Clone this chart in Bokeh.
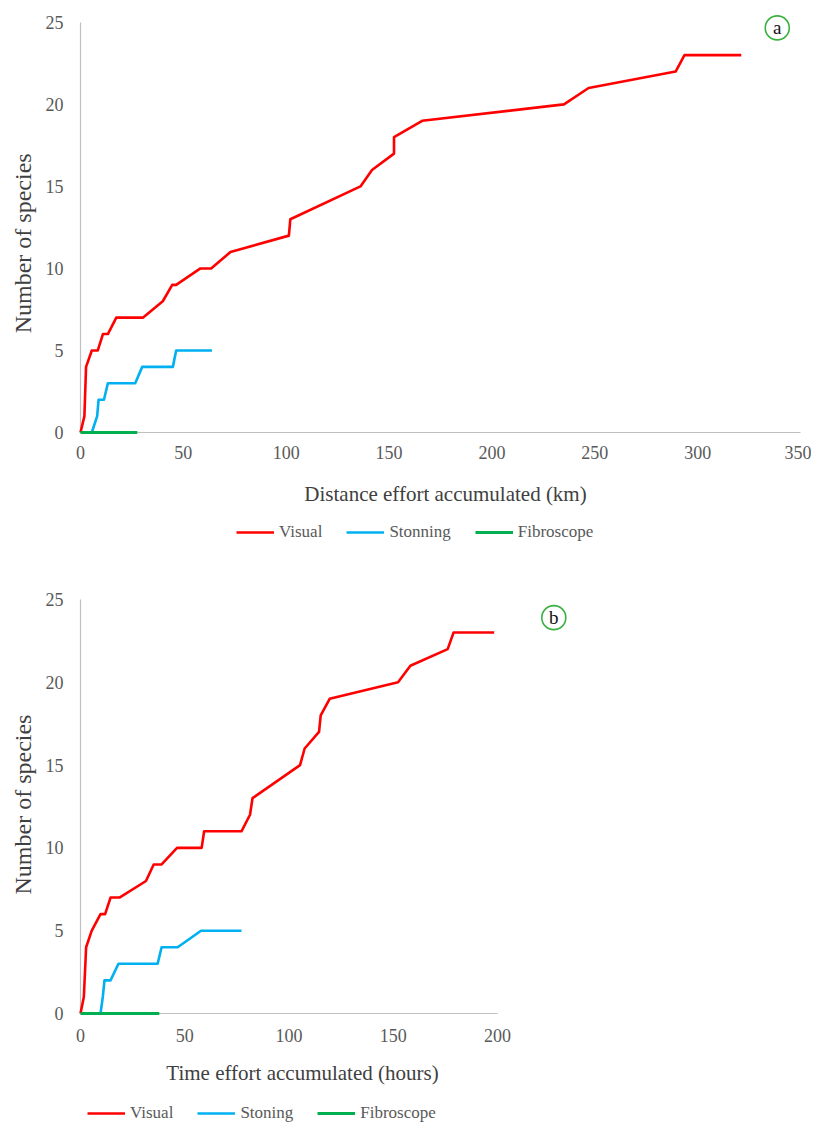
import math
from bokeh.plotting import figure
from bokeh.models import Legend, LegendItem, SingleIntervalTicker, Range1d
from bokeh.layouts import column, row
from bokeh.embed import file_html
from bokeh.resources import INLINE
from bokeh.core.properties import value

# ---------------- data: panel (a) distance effort (km) ----------------
a_visual_x = [0, 1.9, 2.7, 5.5, 8.4, 10.9, 13.3, 17.4, 30.3, 40, 44.6, 46.5, 58.3, 63.5,
              72.9, 101.3, 102, 136.1, 141.7, 152.4, 152.4, 166.1, 235, 247, 289.3, 293.6, 321.2]
a_visual_y = [0, 1, 4, 5, 5, 6, 6, 7, 7, 8, 9, 9, 10, 10,
              11, 12, 13, 15, 16, 17, 18, 19, 20, 21, 22, 23, 23]
a_ston_x = [5.5, 8.1, 8.8, 11.4, 13.3, 26.6, 30, 44.9, 46.5, 63.9]
a_ston_y = [0, 1, 2, 2, 3, 3, 4, 4, 5, 5]
a_fibro_x = [0, 27.6]
a_fibro_y = [0, 0]

# ---------------- data: panel (b) time effort (hours) ----------------
b_visual_x = [0, 1.6, 2.7, 5.4, 9.6, 11.8, 14.4, 18.7, 31.4, 35.1, 38.9, 46.3, 58.1, 59.3,
              77.2, 81.3, 82.5, 105.3, 107.5, 114.4, 115.2, 119.5, 152.3, 158.2, 176.1, 178.9, 198.4]
b_visual_y = [0, 1, 4, 5, 6, 6, 7, 7, 8, 9, 9, 10, 10, 11,
              11, 12, 13, 15, 16, 17, 18, 19, 20, 21, 22, 23, 23]
b_ston_x = [9.6, 10.7, 11.5, 14.4, 18.2, 37, 38.9, 46.6, 57.8, 77.2]
b_ston_y = [0, 1, 2, 2, 3, 3, 4, 4, 5, 5]
b_fibro_x = [0, 37.8]
b_fibro_y = [0, 0]

a_labels = ["Visual", "Stonning", "Fibroscope"]
b_labels = ["Visual", "Stoning", "Fibroscope"]
y_title = "Number of species"
a_x_title = "Distance effort accumulated (km)"
b_x_title = "Time effort accumulated (hours)"

FONT = "Liberation Serif"
TXT = "#595959"
TITLE = "#404040"
AXC = "#BFBFBF"
COLORS = ["#FF0000", "#00B0F0", "#00B050"]
WIDTHS = [2.6, 2.6, 3.2]


def blank(width, height):
    q = figure(width=width, height=height, output_backend="svg", toolbar_location=None,
               x_range=Range1d(0, width), y_range=Range1d(0, height),
               x_axis_type=None, y_axis_type=None,
               min_border_left=0, min_border_right=0, min_border_top=0, min_border_bottom=0)
    q.outline_line_color = None
    q.background_fill_color = "white"
    q.border_fill_color = "white"
    return q


def make_panel(width, height, xr, xbounds, mb_top, mb_right, series, tag, tag_xy,
               tick_standoff):
    p = figure(width=width, height=height, output_backend="svg", toolbar_location=None,
               x_range=Range1d(*xr), y_range=Range1d(0, 25.6),
               min_border_left=40, min_border_right=mb_right,
               min_border_top=mb_top, min_border_bottom=32)
    p.outline_line_color = None
    p.grid.visible = False
    p.background_fill_color = "white"
    p.border_fill_color = "white"

    for ax in (p.xaxis[0], p.yaxis[0]):
        ax.axis_line_color = AXC
        ax.axis_line_width = 1.2
        ax.major_tick_line_color = None
        ax.minor_tick_line_color = None
        ax.major_label_text_font = FONT
        ax.major_label_text_font_size = "18px"
        ax.major_label_text_color = TXT
    p.xaxis.ticker = SingleIntervalTicker(interval=50)
    p.yaxis.ticker = SingleIntervalTicker(interval=5)
    p.xaxis.bounds = xbounds
    p.yaxis.bounds = (0, 25)
    p.xaxis.major_label_standoff = tick_standoff
    p.yaxis.major_label_standoff = 11

    for (xs, ys), c, w in zip(series, COLORS, WIDTHS):
        p.line(xs, ys, line_color=c, line_width=w, line_join="round", level="overlay")

    p.scatter([tag_xy[0]], [tag_xy[1]], marker="circle", size=24, fill_color="white",
              line_color="#3CB043", line_width=1.6)
    p.text([tag_xy[0]], [tag_xy[1]], text=[tag], text_align="center", text_baseline="middle",
           text_font=value(FONT), text_font_size="19px", text_color="#111111")
    return p


def make_ytitle(height, cy):
    q = blank(40, height)
    q.text([22], [height - cy], text=[y_title], angle=math.pi / 2,
           text_align="center", text_baseline="middle",
           text_font=value(FONT), text_font_size="24px", text_color=TITLE)
    return q


def make_caption(width, height, title, title_xy, labels, loc):
    q = blank(width, height)
    q.text([title_xy[0]], [height - title_xy[1]], text=[title],
           text_align="center", text_baseline="middle",
           text_font=value(FONT), text_font_size="21px", text_color=TITLE)
    rends = []
    for c, w in zip(COLORS, WIDTHS):
        rends.append(q.line([-50, -40], [-50, -50], line_color=c, line_width=w))
    legend = Legend(items=[LegendItem(label=l, renderers=[r]) for l, r in zip(labels, rends)],
                    orientation="horizontal", location=loc,
                    margin=0, padding=0, spacing=24,
                    glyph_width=38, glyph_height=20, label_standoff=5,
                    label_text_font=FONT, label_text_font_size="17px",
                    label_text_color=TXT, background_fill_alpha=0,
                    border_line_alpha=0)
    q.add_layout(legend)
    return q


# panel (a): page rows 0..464, caption 464..552
p1 = make_panel(771, 464, (0, 350), (0, 350), 12, 11,
                [(a_visual_x, a_visual_y), (a_ston_x, a_ston_y), (a_fibro_x, a_fibro_y)],
                "a", (338.7, 24.66), 7)
y1 = make_ytitle(464, 255)
c1 = make_caption(811, 88, a_x_title, (445, 29), a_labels, (236, 10))

# panel (b): page rows 552..1045, caption 1045..1124
p2 = make_panel(540, 493, (0, 235), (0, 200), 37, 10,
                [(b_visual_x, b_visual_y), (b_ston_x, b_ston_y), (b_fibro_x, b_fibro_y)],
                "b", (227, 23.9), 9)
y2 = make_ytitle(493, 250)
c2 = make_caption(580, 79, b_x_title, (302, 27), b_labels, (87, 1))

layout = column(row(y1, p1, spacing=0), c1, row(y2, p2, spacing=0), c2, spacing=0)
open("out.html", "w").write(file_html(layout, INLINE))
